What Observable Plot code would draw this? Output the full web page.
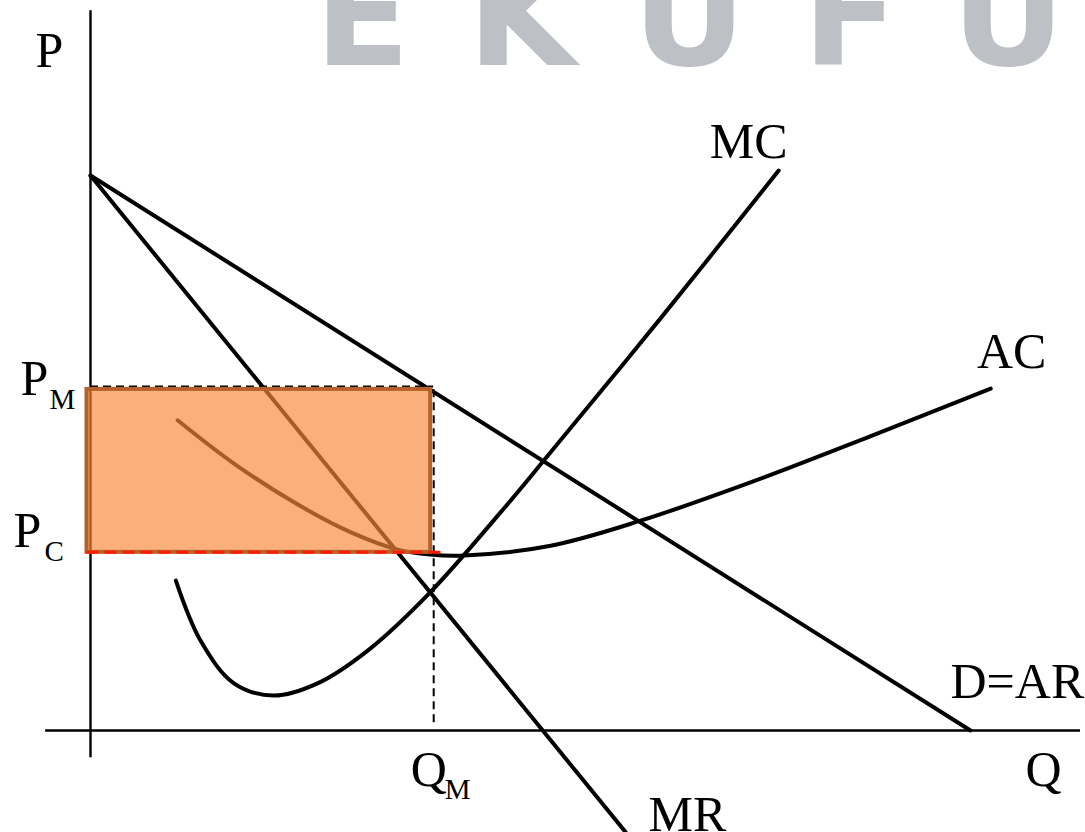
<!DOCTYPE html>
<html>
<head>
<meta charset="utf-8">
<script src="https://cdn.jsdelivr.net/npm/d3@7"></script>
<script src="https://cdn.jsdelivr.net/npm/@observablehq/plot@0.6"></script>
<style>
  html, body { margin: 0; padding: 0; background: #fff; }
  #chart svg { display: block; }
</style>
</head>
<body>
<div id="chart"></div>
<script>
// ---- data (abstract units: Q horizontally, P vertically) ----
const demandQ = [0, 10];
const demandP = [10, 0];
const mrQ = [0, 6.08];
const mrP = [10, -1.83];
const mcQ = [0.97, 1.25, 1.63, 2.08, 2.58, 3.15, 3.86, 4.66, 5.17, 6.48, 7.82];
const mcP = [2.70, 1.62, 0.85, 0.63, 0.85, 1.44, 2.49, 3.93, 4.90, 7.43, 10.09];
const acQ = [0.99, 1.63, 2.39, 2.96, 3.49, 3.86, 4.20, 5.23, 6.25, 7.50, 8.86, 10.23];
const acP = [5.59, 4.81, 4.04, 3.57, 3.26, 3.17, 3.15, 3.33, 3.78, 4.47, 5.30, 6.16];
const qAxis = [-0.51, 11.25];
const pAxis = [-0.49, 12.97];
const PM = 6.2, PC = 3.21, QM = 3.9, pcGuideEnd = 4.05;
const curveLabels = ["MC", "AC", "D=AR", "MR"];
const axisLabels = ["P", "Q"];
const wmLetters = ["E", "K", "U", "F", "U"];

const pts = (qs, ps) => qs.map((q, i) => ({q, p: ps[i]}));
const demand = pts(demandQ, demandP);
const mr = pts(mrQ, mrP);
const mc = pts(mcQ, mcP);
const ac = pts(acQ, acP);
const last = a => a[a.length - 1];

const serif = "Liberation Serif, Times New Roman, serif";
const lab = (text, x, y, opts) => Plot.text([text], {x: () => x, y: () => y, text: d => d,
  fontFamily: serif, fontSize: 50, fill: "black", lineAnchor: "middle", ...opts});

// watermark letters (drawn at frame top-left, offsets in px)
const wmOffsets = [314, 467, 632, 802, 951];
const wmLengths = [108, 142, 128, 80, 121];
const wmMarks = wmLetters.map((L, i) => Plot.text([L], {frameAnchor: "top-left", text: d => d,
  dx: wmOffsets[i], dy: 20, textAnchor: "start", lineAnchor: "middle", fontFamily: "DejaVu Sans", fontWeight: "bold",
  fontSize: 140, fill: "#bdc1c6", ariaLabel: "wm" + i}));

const chart = Plot.plot({
  width: 1085,
  height: 832,
  margin: 0,
  style: {background: "white", overflow: "visible"},
  x: {domain: [0, 10], range: [90, 970], axis: null},
  y: {domain: [0, 10], range: [730, 175], axis: null},
  marks: [
    ...wmMarks,
    // axes
    Plot.ruleX([0], {y1: pAxis[0], y2: pAxis[1], stroke: "black", strokeWidth: 2.4}),
    Plot.ruleY([0], {x1: qAxis[0], x2: qAxis[1], stroke: "black", strokeWidth: 2.4}),
    // curves
    Plot.line(demand, {x: "q", y: "p", stroke: "black", strokeWidth: 4}),
    Plot.line(mr, {x: "q", y: "p", stroke: "black", strokeWidth: 4}),
    Plot.line(mc, {x: "q", y: "p", stroke: "black", strokeWidth: 4, curve: "catmull-rom"}),
    Plot.line(ac, {x: "q", y: "p", stroke: "black", strokeWidth: 4, curve: "catmull-rom"}),
    // guides
    Plot.ruleY([PM], {x1: 0, x2: QM, stroke: "black", strokeWidth: 2, strokeDasharray: "8,5"}),
    Plot.ruleX([QM], {y1: 0.14, y2: PM, stroke: "black", strokeWidth: 2, strokeDasharray: "8,5"}),
    // monopoly profit rectangle
    Plot.rect([{}], {x1: 0, x2: QM, y1: PC, y2: PM, fill: "#f9883b", fillOpacity: 0.674,
      insetLeft: -3.5, insetRight: 3, insetTop: 3}),
    Plot.rect([{}], {x1: 0, x2: QM, y1: PC, y2: PM, fill: "none", stroke: "#b5622a", strokeWidth: 4,
      insetLeft: -3.5, insetRight: 3, insetTop: 3}),
    Plot.ruleY([PC], {x1: -0.04, x2: pcGuideEnd, stroke: "#ff1a00", strokeWidth: 3, strokeDasharray: "12,6"}),
    // curve labels
    lab(curveLabels[0], last(mc).q, last(mc).p, {dx: -30, dy: -29}),
    lab(curveLabels[1], last(ac).q, last(ac).p, {dx: 21, dy: -37}),
    lab(curveLabels[2], last(demand).q, last(demand).p, {textAnchor: "start", dx: -20, dy: -49}),
    lab(curveLabels[3], last(mr).q, last(mr).p, {textAnchor: "start", dx: 23, dy: -17}),
    // axis labels
    lab(axisLabels[0], 0, pAxis[1], {textAnchor: "start", dx: -55, dy: 40}),
    lab(axisLabels[1], qAxis[1], 0, {textAnchor: "start", dx: -55, dy: 39}),
    // P_M, P_C, Q_M
    lab("P", 0, PM, {textAnchor: "start", dx: -70, dy: -7}),
    lab("M", 0, PM, {textAnchor: "start", dx: -41, dy: 13, fontSize: 29}),
    lab("P", 0, PC, {textAnchor: "start", dx: -77, dy: -21}),
    lab("C", 0, PC, {textAnchor: "start", dx: -46, dy: -1, fontSize: 29}),
    lab("Q", QM, 0, {textAnchor: "start", dx: -23, dy: 39}),
    lab("M", QM, 0, {textAnchor: "start", dx: 11, dy: 59, fontSize: 29})
  ]
});

// watermark styling: metallic gradient and wide letterforms
const svg = d3.select(chart);
const defs = svg.insert("defs", ":first-child");
const g = defs.append("linearGradient").attr("id", "wmgrad")
  .attr("gradientUnits", "userSpaceOnUse").attr("x1", 0).attr("y1", 0).attr("x2", 0).attr("y2", 70);
g.append("stop").attr("offset", "0%").attr("stop-color", "#dadde0");
g.append("stop").attr("offset", "100%").attr("stop-color", "#aeb2b8");
wmLetters.forEach((L, i) => {
  svg.selectAll(`g[aria-label="wm${i}"] text`)
    .attr("fill", "url(#wmgrad)")
    .attr("textLength", wmLengths[i])
    .attr("lengthAdjust", "spacingAndGlyphs");
});

document.getElementById("chart").appendChild(chart);
</script>
</body>
</html>
